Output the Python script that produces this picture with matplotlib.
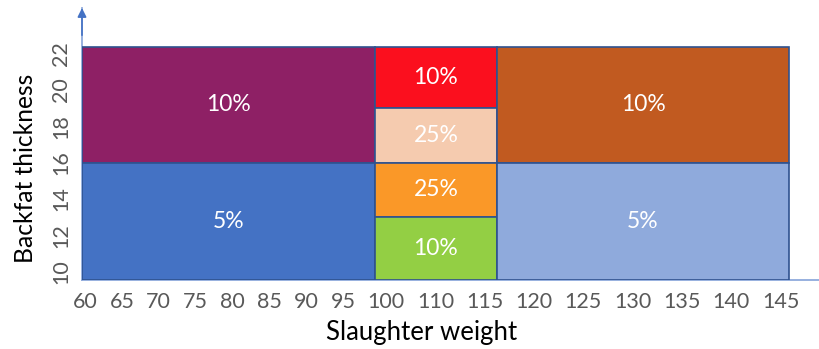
import numpy as np
import matplotlib.pyplot as plt

plt.rcParams['font.family'] = ['Lato', 'DejaVu Sans']

# axis tick labels (105 is left out on the weight axis)
weight_ticks = [60, 65, 70, 75, 80, 85, 90, 95, 100, 110, 115, 120, 125, 130, 135, 140, 145]
backfat_ticks = [10, 12, 14, 16, 18, 20, 22]

# grading cells: weight range, backfat range, share of pigs
weight_from = [59.6, 59.6, 98.7, 98.7, 98.7, 98.7, 116.2, 116.2]
weight_to = [98.7, 98.7, 116.2, 116.2, 116.2, 116.2, 145.9, 145.9]
fat_from = [16, 9.55, 19, 16, 13, 9.55, 16, 9.55]
fat_to = [22.35, 16, 22.35, 19, 16, 13, 22.35, 16]
shares = [10, 5, 10, 25, 25, 10, 10, 5]
colors = ['#8E2065', '#4472C4', '#FB0F1E', '#F5CBAF',
          '#FA9828', '#93CF44', '#C15A20', '#8FAADC']

# weight labels sit like a line of text: wider gaps for the 3-digit ones
char_w, gap = 12.4, 12.1
tick_pos = []
x = 0.0
for i, v in enumerate(weight_ticks):
    n = len(str(v))
    if i == 0:
        x = n * char_w / 2
    else:
        x += len(str(weight_ticks[i - 1])) * char_w / 2 + gap + n * char_w / 2
    tick_pos.append(x)
tick_pos = np.array(tick_pos)
wt = np.array(weight_ticks, float)
lo_slope = (tick_pos[1] - tick_pos[0]) / (wt[1] - wt[0])
hi_slope = (tick_pos[-1] - tick_pos[-2]) / (wt[-1] - wt[-2])


def fwd(w):
    w = np.asarray(w, float)
    out = np.interp(w, wt, tick_pos)
    out = np.where(w < wt[0], tick_pos[0] + (w - wt[0]) * lo_slope, out)
    out = np.where(w > wt[-1], tick_pos[-1] + (w - wt[-1]) * hi_slope, out)
    return out


def inv(p):
    p = np.asarray(p, float)
    out = np.interp(p, tick_pos, wt)
    out = np.where(p < tick_pos[0], wt[0] + (p - tick_pos[0]) / lo_slope, out)
    out = np.where(p > tick_pos[-1], wt[-1] + (p - tick_pos[-1]) / hi_slope, out)
    return out


fig = plt.figure(figsize=(8.19, 3.49), dpi=100)
ax = fig.add_axes([82 / 819, 69 / 349, 737 / 819, 272 / 349])
ax.set_xscale('function', functions=(fwd, inv))
ax.set_xlim(59.6, 148.9)
ax.set_ylim(9.55, 24.5)

for w0, w1, f0, f1, s, c in zip(weight_from, weight_to, fat_from, fat_to, shares, colors):
    ax.bar(w0, f1 - f0, width=w1 - w0, bottom=f0, align='edge',
           color=c, edgecolor='#2F528F', linewidth=1.2, zorder=3)
    xm = inv((fwd(w0) + fwd(w1)) / 2)
    ax.text(xm, (f0 + f1) / 2, f'{s}%', color='white', fontsize=16.5,
            ha='center', va='center', zorder=4)

ax.set_xticks(weight_ticks)
ax.set_xticklabels([str(v) for v in weight_ticks])
ax.set_yticks(backfat_ticks)
ax.set_yticklabels([str(v) for v in backfat_ticks], rotation=90, va='center')
ax.tick_params(axis='both', length=0, labelsize=15.5, labelcolor='#595959')
ax.tick_params(axis='x', pad=9)
ax.tick_params(axis='y', pad=8)
ax.minorticks_off()

for side in ['top', 'right']:
    ax.spines[side].set_visible(False)
for side in ['left', 'bottom']:
    ax.spines[side].set_color('#8FAADC')
    ax.spines[side].set_linewidth(1.3)

# arrow head on the backfat axis
ax.annotate('', xy=(0, 1), xycoords='axes fraction', xytext=(0, 0.9),
            arrowprops=dict(arrowstyle='-|>', color='#4472C4', lw=1.2,
                            mutation_scale=13, shrinkA=0, shrinkB=0))

ax.set_xlabel('Slaughter weight', fontsize=18.5, color='black', va='baseline')
ax.xaxis.set_label_coords(0.461, -0.2206)
ax.set_ylabel('Backfat thickness', fontsize=17.7, color='black', va='baseline')
ax.yaxis.set_label_coords(-0.0665, 0.4118)

fig.savefig('out.png', dpi=100)
